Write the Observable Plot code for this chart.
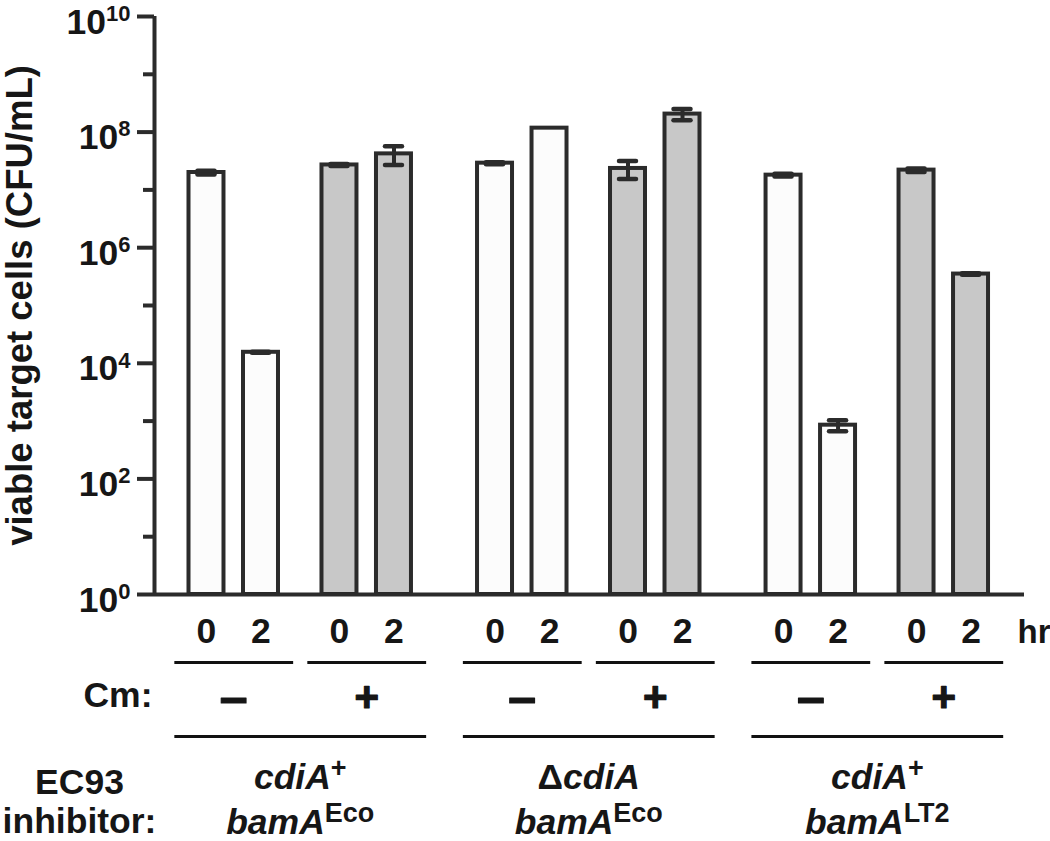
<!DOCTYPE html>
<html><head><meta charset="utf-8">
<script src="https://cdn.jsdelivr.net/npm/d3@7"></script>
<script src="https://cdn.jsdelivr.net/npm/@observablehq/plot@0.6"></script>
<style>body{margin:0;background:#fff}</style>
</head><body><div id="chart"></div>
<script>
// ---- data ----
const groupLine1 = ["*cdiA*^+", "Δ*cdiA*", "*cdiA*^+"];
const groupLine2 = ["*bamA*^Eco", "*bamA*^Eco", "*bamA*^LT2"];
const cmLabels = ["–", "+"];
const hrLabels = ["0", "2"];
// order: group × Cm(−,+) × hr(0,2)
const meanCFU = [2.0e7, 1.55e4, 2.7e7, 4.2e7, 2.9e7, 1.17e8, 2.35e7, 2.05e8, 1.8e7, 850, 2.2e7, 3.5e5];
const sdCFU   = [0.15e7, 0.03e4, 0.1e7, 1.5e7, 0.12e7, 0, 0.8e7, 0.45e8, 0.1e7, 180, 0.15e7, 0.1e5];
const majorExps = [0, 2, 4, 6, 8, 10];
const minorExps = [1, 3, 5, 7, 9];
const yLabel = "viable target cells (CFU/mL)";

// ---- layout ----
const HR_STEP = 1, CM_STEP = 2.44, GROUP_STEP = 5.294;
const pos = (g, c, h) => g * GROUP_STEP + c * CM_STEP + h * HR_STEP;
const BAR_HALF = 0.321, CAP_HALF = 0.156, PAIR_EXT = 0.59;
const ink = "#2b2b2b", textInk = "#161616";
const fillMinus = "#fcfcfc", fillPlus = "#c8c8c8";
const FONT = 35.5;

const bars = [];
for (let g = 0; g < 3; g++) for (let c = 0; c < 2; c++) for (let h = 0; h < 2; h++) {
  const i = g * 4 + c * 2 + h;
  bars.push({g, c, h, mean: meanCFU[i], sd: sdCFU[i], x: pos(g, c, h)});
}
const pairs = [];
for (let g = 0; g < 3; g++) for (let c = 0; c < 2; c++) pairs.push({g, c, label: cmLabels[c]});
const groups = [0, 1, 2].map(g => ({g, l1: groupLine1[g], l2: groupLine2[g]}));

const txt = {fill: textInk, fontWeight: "bold", fontSize: FONT};

const plot = Plot.plot({
  width: 1050, height: 841,
  marginTop: 16, marginBottom: 247, marginLeft: 154, marginRight: 26,
  style: {fontFamily: "'Liberation Sans', Arial, sans-serif", background: "white", overflow: "visible"},
  x: {domain: [-0.954, 15.009], axis: null},
  y: {type: "log", domain: [1, 1e10], axis: null},
  marks: [
    // bars
    Plot.rect(bars.filter(d => d.c === 0), {x1: d => d.x - BAR_HALF, x2: d => d.x + BAR_HALF, y1: 1, y2: "mean", fill: fillMinus, stroke: ink, strokeWidth: 4}),
    Plot.rect(bars.filter(d => d.c === 1), {x1: d => d.x - BAR_HALF, x2: d => d.x + BAR_HALF, y1: 1, y2: "mean", fill: fillPlus, stroke: ink, strokeWidth: 4}),
    // error bars
    Plot.ruleX(bars.filter(d => d.sd > 0), {x: "x", y1: d => d.mean - d.sd, y2: d => d.mean + d.sd, stroke: ink, strokeWidth: 4}),
    Plot.ruleY(bars.filter(d => d.sd > 0), {y: d => d.mean + d.sd, x1: d => d.x - CAP_HALF, x2: d => d.x + CAP_HALF, stroke: ink, strokeWidth: 4.5, strokeLinecap: "round"}),
    Plot.ruleY(bars.filter(d => d.sd > 0), {y: d => d.mean - d.sd, x1: d => d.x - CAP_HALF, x2: d => d.x + CAP_HALF, stroke: ink, strokeWidth: 4.5, strokeLinecap: "round"}),
    // axes lines
    Plot.ruleY([1], {stroke: ink, strokeWidth: 4}),
    Plot.ruleX([-0.954], {stroke: ink, strokeWidth: 4}),
    Plot.axisY({ticks: majorExps.map(e => 10 ** e), tickSize: 17, tickFormat: () => "", label: null, stroke: ink, strokeWidth: 4}),
    Plot.axisY({ticks: minorExps.map(e => 10 ** e), tickSize: 11, tickFormat: () => "", label: null, stroke: ink, strokeWidth: 4}),
    Plot.text(majorExps, {frameAnchor: "left", y: e => 10 ** e, text: e => "10^" + e, textAnchor: "end", dx: -24, dy: 17, lineAnchor: "bottom", ...txt}),
    Plot.text([yLabel], {frameAnchor: "left", textAnchor: "middle", rotate: -90, dx: -123, lineAnchor: "bottom", ...txt, fontSize: 36.5}),
    // hr row
    Plot.text(bars, {x: "x", y: 1, text: d => hrLabels[d.h], dy: 48, lineAnchor: "bottom", ...txt}),
    Plot.text(["hr"], {frameAnchor: "bottom-right", textAnchor: "start", dx: -7, dy: 48, lineAnchor: "bottom", ...txt, fontSize: 33}),
    Plot.link(pairs, {x1: d => pos(d.g, d.c, 0) - PAIR_EXT, x2: d => pos(d.g, d.c, 1) + PAIR_EXT, y1: 1, y2: 1, dy: 68, stroke: "#111", strokeWidth: 3}),
    // Cm row
    Plot.text(pairs, {x: d => pos(d.g, d.c, 0) + HR_STEP / 2, y: 1, text: "label", dy: 103, lineAnchor: "middle", ...txt, fontSize: d => d.c ? 42 : 50, stroke: textInk, strokeWidth: 1.2}),
    Plot.text(["Cm:"], {frameAnchor: "bottom-left", textAnchor: "end", dx: -2, dy: 112, lineAnchor: "bottom", ...txt}),
    Plot.link(groups, {x1: d => pos(d.g, 0, 0) - PAIR_EXT, x2: d => pos(d.g, 1, 1) + PAIR_EXT, y1: 1, y2: 1, dy: 142, stroke: "#111", strokeWidth: 3}),
    // inhibitor row
    Plot.text(groups, {x: d => (pos(d.g, 0, 0) + pos(d.g, 1, 1)) / 2, y: 1, text: "l1", dy: 194, lineAnchor: "bottom", ...txt}),
    Plot.text(groups, {x: d => (pos(d.g, 0, 0) + pos(d.g, 1, 1)) / 2, y: 1, text: "l2", dy: 239, lineAnchor: "bottom", ...txt}),
    Plot.text(["EC93"], {frameAnchor: "bottom-left", textAnchor: "middle", dx: -75, dy: 199, lineAnchor: "bottom", ...txt}),
    Plot.text(["inhibitor:"], {frameAnchor: "bottom-left", textAnchor: "middle", dx: -75, dy: 238, lineAnchor: "bottom", ...txt})
  ]
});

// turn "*italic*" and "^superscript" markup into tspans
d3.select(plot).selectAll("text").each(function () {
  const raw = this.textContent;
  if (!/[\^*]/.test(raw)) return;
  const isTick = raw.startsWith("10^");
  const supScale = isTick ? 0.62 : 0.76;
  const supShift = isTick ? -0.58 : -0.42;
  const [main, sup] = raw.split("^");
  this.textContent = "";
  const sel = d3.select(this);
  main.split("*").forEach((p, i) => {
    if (!p) return;
    const t = sel.append("tspan").text(p);
    if (i % 2 === 1) t.attr("font-style", "italic");
  });
  if (sup !== undefined) sel.append("tspan").attr("font-size", supScale + "em").attr("dy", supShift + "em").text(sup);
});

document.getElementById("chart").appendChild(plot);
</script>
</body></html>
